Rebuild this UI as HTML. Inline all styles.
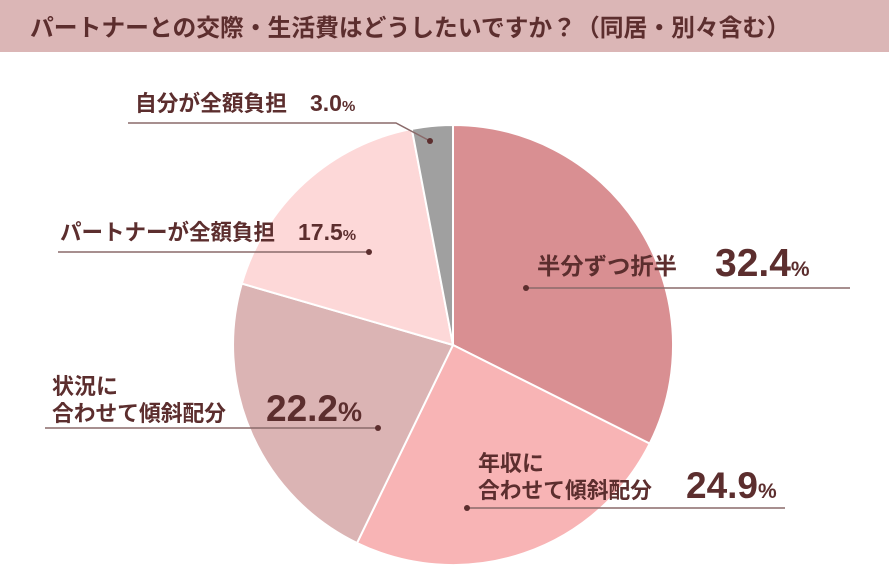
<!DOCTYPE html>
<html><head><meta charset="utf-8"><style>
html,body{margin:0;padding:0;background:#fff;}
svg{display:block;}
text{font-family:"Liberation Sans","Noto Sans CJK JP",sans-serif;font-weight:bold;fill:#5c2e2e;}
</style></head><body>
<svg width="889" height="574" viewBox="0 0 889 574" xmlns="http://www.w3.org/2000/svg">
<rect x="0" y="0" width="889" height="52" fill="#dbb6b6"/>
<text x="30" y="36" font-size="24" textLength="760" lengthAdjust="spacingAndGlyphs">パートナーとの交際・生活費はどうしたいですか？（同居・別々含む）</text>
<g stroke="#fff" stroke-width="2">
<path d="M453,345 L453,125 A220,220 0 0 1 649.7,443.6 Z" fill="#d98f92"/>
<path d="M453,345 L649.7,443.6 A220,220 0 0 1 357,543 Z" fill="#f8b4b5"/>
<path d="M453,345 L357,543 A220,220 0 0 1 241.8,283.6 Z" fill="#dbb4b4"/>
<path d="M453,345 L241.8,283.6 A220,220 0 0 1 411.8,128.9 Z" fill="#fdd8d8"/>
<path d="M453,345 L411.8,128.9 A220,220 0 0 1 453,125 Z" fill="#a0a0a0"/>
</g>
<g stroke="#8a6a6a" stroke-width="1.5" fill="none">
<polyline points="128,123 396,123 430,141"/>
<line x1="58" y1="252" x2="369" y2="252"/>
<line x1="45" y1="428" x2="378" y2="428"/>
<line x1="526" y1="288" x2="850" y2="288"/>
<line x1="467" y1="508" x2="785" y2="508"/>
</g>
<g fill="#5c2e2e">
<circle cx="430" cy="141" r="3"/><circle cx="369" cy="252" r="3"/><circle cx="378" cy="428" r="3"/><circle cx="526" cy="288" r="3"/><circle cx="467" cy="508" r="3"/>
</g>
<text x="135" y="111" font-size="22" textLength="152" lengthAdjust="spacingAndGlyphs">自分が全額負担</text>
<text x="310" y="111" font-size="23">3.0<tspan font-size="15">%</tspan></text>
<text x="60" y="240" font-size="22" textLength="215" lengthAdjust="spacingAndGlyphs">パートナーが全額負担</text>
<text x="298" y="240" font-size="23">17.5<tspan font-size="15">%</tspan></text>
<text x="52" y="394" font-size="22">状況に</text>
<text x="52" y="421" font-size="22" textLength="174" lengthAdjust="spacingAndGlyphs">合わせて傾斜配分</text>
<text x="266" y="421" font-size="37">22.2<tspan font-size="27">%</tspan></text>
<text x="537" y="274" font-size="23" textLength="140" lengthAdjust="spacingAndGlyphs">半分ずつ折半</text>
<text x="715" y="276" font-size="39">32.4<tspan font-size="21">%</tspan></text>
<text x="478" y="471" font-size="22">年収に</text>
<text x="478" y="498" font-size="22" textLength="174" lengthAdjust="spacingAndGlyphs">合わせて傾斜配分</text>
<text x="686" y="498" font-size="37">24.9<tspan font-size="21">%</tspan></text>
</svg>
</body></html>
